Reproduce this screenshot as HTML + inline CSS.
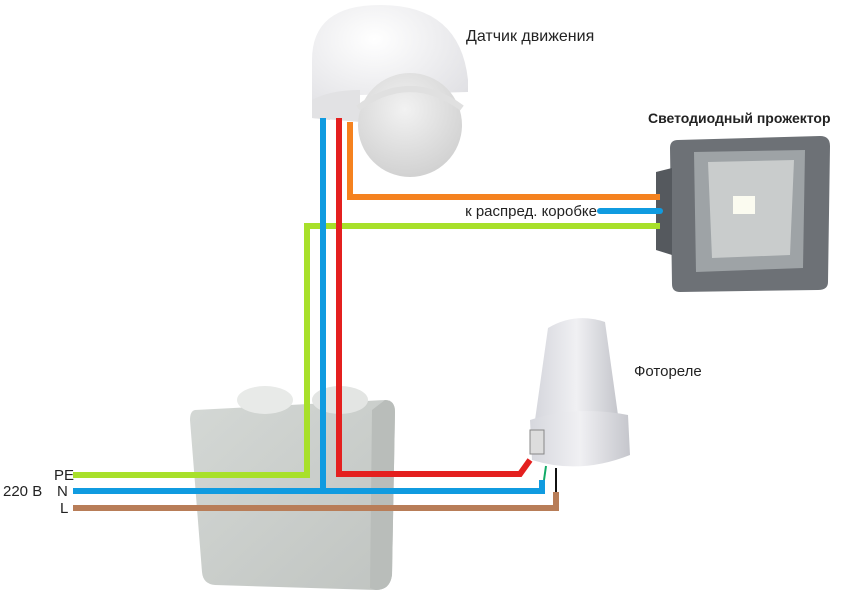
<!DOCTYPE html>
<html><head><meta charset="utf-8"><style>
html,body{margin:0;padding:0;background:#fff;}
svg{display:block;font-family:"Liberation Sans",sans-serif;}
</style></head><body>
<svg width="850" height="598" viewBox="0 0 850 598" xmlns="http://www.w3.org/2000/svg">
<defs>
<linearGradient id="box" x1="0" y1="0" x2="1" y2="1"><stop offset="0" stop-color="#d4d8d5"/><stop offset="1" stop-color="#c0c4c1"/></linearGradient>
<radialGradient id="lens" cx="0.45" cy="0.35" r="0.7"><stop offset="0" stop-color="#f2f2f2"/><stop offset="1" stop-color="#cfcfcf"/></radialGradient>
<radialGradient id="dome" cx="0.4" cy="0.3" r="0.8"><stop offset="0" stop-color="#ffffff"/><stop offset="1" stop-color="#dedee2"/></radialGradient>
<linearGradient id="cone" x1="0" y1="0" x2="1" y2="0"><stop offset="0" stop-color="#d6d7dd"/><stop offset="0.5" stop-color="#f0f0f3"/><stop offset="1" stop-color="#c5c6cc"/></linearGradient>
</defs>

<!-- junction box -->
<path d="M195 410 L385 400 Q395 400 395 412 L392 575 Q390 590 376 590 L215 585 Q203 584 202 572 L190 420 Q190 411 195 410Z" fill="url(#box)"/>
<path d="M385 400 Q395 400 395 412 L392 575 Q390 590 376 590 L370 588 L372 410Z" fill="#b9bdba"/>
<ellipse cx="265" cy="400" rx="28" ry="14" fill="#e8eae8"/>
<ellipse cx="340" cy="400" rx="28" ry="14" fill="#e3e5e3"/>

<!-- motion sensor -->
<path d="M312 118 L312 60 Q312 5 380 5 Q460 5 468 80 L468 92 L360 95 Q340 100 330 120Z" fill="url(#dome)"/>
<path d="M312 118 L312 100 Q330 90 360 90 L360 122Z" fill="#e2e2e4"/>
<circle cx="410" cy="125" r="52" fill="url(#lens)"/>
<path d="M358 108 Q410 70 462 108" stroke="#e0e0e0" stroke-width="6" fill="none"/>

<!-- projector -->
<path d="M678 140 L820 136 Q830 136 830 146 L828 282 Q828 290 818 290 L680 292 Q672 292 672 284 L670 148 Q670 140 678 140Z" fill="#6d7176"/>
<path d="M656 172 L672 168 L672 255 L656 250Z" fill="#55595e"/>
<path d="M694 152 L805 150 L803 268 L696 272Z" fill="#9ea3a6"/>
<path d="M708 162 L794 160 L790 255 L712 258Z" fill="#c9cccc"/>
<rect x="733" y="196" width="22" height="18" fill="#fbfbf0"/>

<!-- photorelay -->
<path d="M548 328 Q575 312 605 322 L618 415 L535 420Z" fill="url(#cone)"/>
<path d="M530 420 Q575 405 628 415 L630 455 Q580 475 532 460Z" fill="url(#cone)"/>
<rect x="530" y="430" width="14" height="24" fill="#ddd" stroke="#888"/>

<!-- wires -->
<g fill="none" stroke-width="6">
<path d="M350 122 L350 197 L660 197" stroke="#f5821f"/>
<path d="M600 211 L660 211" stroke="#109be0" stroke-linecap="round"/>
<path d="M660 226 L307 226 L307 475 L73 475" stroke="#a8e02a"/>
<path d="M339 118 L339 474 L520 474 L530 460" stroke="#e4201f"/>
<path d="M323 118 L323 491 L73 491 M323 491 L542 491 L542 480" stroke="#109be0"/>
<path d="M73 508 L556 508 L556 492" stroke="#b87d58"/>
</g>
<path d="M544 480 L546 466" stroke="#1a6" stroke-width="2"/>
<path d="M556 492 L556 468" stroke="#111" stroke-width="2"/>

<!-- labels -->
<g font-size="15" fill="#222">
<text x="466" y="41" font-size="16">Датчик движения</text>
<text x="648" y="123" font-weight="bold" font-size="14">Светодиодный прожектор</text>
<text x="597" y="216" text-anchor="end">к распред. коробке</text>
<text x="634" y="376">Фотореле</text>
<text x="54" y="480">PE</text>
<text x="57" y="496">N</text>
<text x="60" y="513">L</text>
<text x="3" y="496">220 В</text>
</g>
</svg>
</body></html>
